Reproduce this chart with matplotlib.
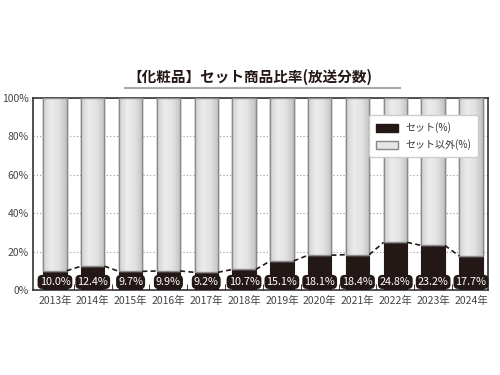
import numpy as np
import matplotlib.pyplot as plt
from matplotlib.patches import Patch
from matplotlib.colors import LinearSegmentedColormap

plt.rcParams['font.family'] = ['Noto Sans CJK JP', 'DejaVu Sans']

years = ['2013年', '2014年', '2015年', '2016年', '2017年', '2018年',
         '2019年', '2020年', '2021年', '2022年', '2023年', '2024年']
set_pct = [10.0, 12.4, 9.7, 9.9, 9.2, 10.7, 15.1, 18.1, 18.4, 24.8, 23.2, 17.7]
other_pct = [100 - v for v in set_pct]

x = np.arange(len(years))
w = 0.62

fig = plt.figure(figsize=(5, 3.75), dpi=100)
ax = fig.add_axes([0.066, 0.2267, 0.91, 0.512])

ax.bar(x, set_pct, w, color='#231815', edgecolor='#231815', linewidth=0.8, zorder=3)
gray = ax.bar(x, other_pct, w, bottom=set_pct, color='#dadada', edgecolor='#8a8a8a',
              linewidth=1.0, zorder=3)

# light gradient on the grey bars
cmap = LinearSegmentedColormap.from_list('g', ['#d2d2d2', '#ececec', '#e2e2e2', '#c2c2c2'])
grad = np.linspace(0, 1, 64).reshape(1, -1)
for p in gray:
    x0, y0 = p.get_x(), p.get_y()
    im = ax.imshow(grad, cmap=cmap, aspect='auto', zorder=3.1,
                   extent=[x0, x0 + p.get_width(), y0, y0 + p.get_height()])
    im.set_clip_path(p)
    ax.bar(x0 + p.get_width() / 2, p.get_height(), p.get_width(), bottom=y0,
           color='none', edgecolor='#8a8a8a', linewidth=1.0, zorder=3.2)

# dashed connector lines between tops of the dark bars
for i in range(len(x) - 1):
    ax.plot([x[i] + w / 2, x[i + 1] - w / 2], [set_pct[i], set_pct[i + 1]],
            color='#231815', linestyle=(0, (3, 2)), linewidth=1.2, zorder=4)

for xi, v in zip(x, set_pct):
    ax.text(xi, 4.2, f'{v:.1f}%', ha='center', va='center', color='white',
            fontsize=7.8, zorder=5,
            bbox=dict(boxstyle='round,pad=0.12,rounding_size=0.35',
                      facecolor='#231815', edgecolor='#231815'))

ax.set_xlim(-0.58, 11.45)
ax.set_ylim(0, 100)
ax.set_yticks([0, 20, 40, 60, 80, 100])
ax.set_yticklabels(['0%', '20%', '40%', '60%', '80%', '100%'])
ax.set_xticks(x)
ax.set_xticklabels(years)
ax.tick_params(axis='both', length=0, labelsize=7.5, labelcolor='#444444')
ax.tick_params(axis='y', pad=3)
ax.tick_params(axis='x', pad=4)
ax.set_xticks(x[:-1] + 0.5, minor=True)
ax.tick_params(axis='x', which='minor', direction='in', length=4, color='#231815')
ax.yaxis.grid(True, linestyle=(0, (1, 2)), color='#999999', linewidth=0.8, zorder=0)
for s in ax.spines.values():
    s.set_color('#333333')
    s.set_linewidth(1.2)

leg = ax.legend(handles=[Patch(facecolor='#231815', edgecolor='#231815', label='セット(%)'),
                         Patch(facecolor='#e6e6e6', edgecolor='#888888', label='セット以外(%)')],
                loc='upper right', bbox_to_anchor=(0.99, 0.935), fontsize=7.2,
                frameon=True, fancybox=True, framealpha=1, edgecolor='#cccccc',
                handlelength=2.2, handleheight=0.9, labelcolor='#333333',
                borderpad=0.7, labelspacing=0.6)
leg.set_zorder(6)

fig.text(0.5, 0.795, '【化粧品】セット商品比率(放送分数)', ha='center', va='center',
         fontsize=10.5, fontweight='bold', color='#231815')
fig.add_artist(plt.Line2D([0.25, 0.8], [0.765, 0.765], color='#aaaaaa',
                          linewidth=1.5, transform=fig.transFigure))

fig.savefig('out.png', dpi=100)
